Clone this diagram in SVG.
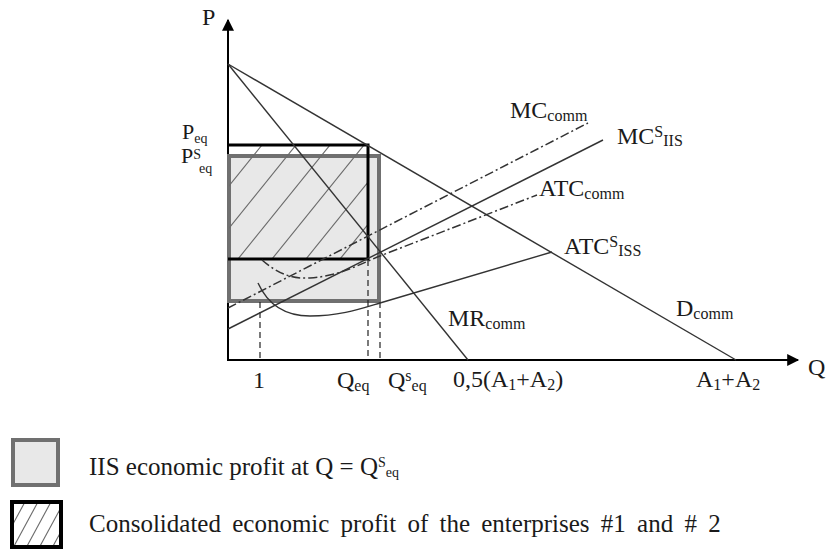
<svg xmlns="http://www.w3.org/2000/svg" width="827" height="549" viewBox="0 0 827 549">
<style>
text{font-family:"Liberation Serif","Times New Roman",serif;fill:#1a1a1a;font-size:24px}
.sub{font-size:16px}
.sm{font-size:14px}
.leg{font-size:25px}
.pl{font-size:22px}
.ax{stroke:#000;stroke-width:2;fill:none}
.ln{stroke:#333;stroke-width:1.4;fill:none}
.dd{stroke:#333;stroke-width:1.5;fill:none;stroke-dasharray:9 3 2 3}
.ds{stroke:#222;stroke-width:1.2;fill:none;stroke-dasharray:6 4}
.hatch{stroke:#6a6a6a;stroke-width:1.1}
</style>
<defs>
<marker id="arr" viewBox="0 0 10 10" refX="9" refY="5" markerWidth="14" markerHeight="12" markerUnits="userSpaceOnUse" orient="auto"><path d="M0,0 L10,5 L0,10 z" fill="#000"/></marker>
<clipPath id="cpH"><rect x="229" y="146" width="138" height="112"/></clipPath>
<clipPath id="cpL"><rect x="14" y="504" width="45" height="41"/></clipPath>
</defs>
<rect width="827" height="549" fill="#fff"/>
<g id="axes">
<line class="ax" x1="228" y1="361" x2="228" y2="20" marker-end="url(#arr)"/>
<line class="ax" x1="227" y1="360" x2="798" y2="360" marker-end="url(#arr)"/>
<text x="202" y="25">P</text>
<text x="808" y="375">Q</text>
</g>
<g id="iis-profit">
<rect x="229" y="156" width="150" height="145" fill="#e8e8e8" stroke="#707070" stroke-width="4"/>
</g>
<g id="consolidated-profit">
<g clip-path="url(#cpH)" class="hatch">
<line x1="136" y1="259" x2="228" y2="145"/>
<line x1="170" y1="259" x2="262" y2="145"/>
<line x1="204" y1="259" x2="296" y2="145"/>
<line x1="238" y1="259" x2="330" y2="145"/>
<line x1="272" y1="259" x2="364" y2="145"/>
<line x1="306" y1="259" x2="398" y2="145"/>
<line x1="340" y1="259" x2="432" y2="145"/>
</g>
<polyline points="228,145 368,145 368,259 228,259" fill="none" stroke="#000" stroke-width="3"/>
</g>
<g id="connectors">
<line class="ds" x1="260" y1="302" x2="260" y2="360"/>
<line class="ds" x1="368" y1="260" x2="368" y2="360"/>
<line class="ds" x1="380" y1="302" x2="380" y2="360"/>
<line id="D" class="ln" x1="228" y1="64" x2="736" y2="360"/>
<line id="MR" class="ln" x1="228" y1="64" x2="468" y2="360"/>
<line id="MCcomm" class="dd" x1="228" y1="308" x2="588" y2="123"/>
<line id="MCiis" class="ln" x1="228" y1="329" x2="603" y2="140"/>
<path id="ATCcomm" class="dd" d="M262,260 C278,274 292,279 310,278 C340,276 360,264 380,256 L537,195"/>
<path id="ATCiss" class="ln" d="M258,283 C268,305 285,316 310,316 C340,316 360,309 380,303 L552,252"/>
</g>
<g id="labels">
<text class="pl" x="182" y="139">P<tspan class="sm" dy="4">eq</tspan></text>
<text class="pl" x="181" y="163">P<tspan class="sm" dy="-4" font-size="13">S</tspan><tspan class="sm" dy="14" x="199">eq</tspan></text>
<text x="510" y="118">MC<tspan class="sub" dy="3">comm</tspan></text>
<text x="617" y="144">MC<tspan class="sub" dy="-7">S</tspan><tspan class="sub" dy="9">IIS</tspan></text>
<text x="539" y="196">ATC<tspan class="sub" dy="3">comm</tspan></text>
<text x="564" y="254">ATC<tspan class="sub" dy="-7">S</tspan><tspan class="sub" dy="9">ISS</tspan></text>
<text x="448" y="326">MR<tspan class="sub" dy="3">comm</tspan></text>
<text x="676" y="316">D<tspan class="sub" dy="3">comm</tspan></text>
<text x="253" y="388">1</text>
<text x="337" y="388">Q<tspan class="sub" dy="3">eq</tspan></text>
<text x="388" y="388">Q<tspan class="sub" dy="-7">s</tspan><tspan class="sub" dy="10">eq</tspan></text>
<text x="453" y="387">0,5(A<tspan class="sub" dy="3">1</tspan><tspan dy="-3">+A</tspan><tspan class="sub" dy="3">2</tspan><tspan dy="-3">)</tspan></text>
<text x="696" y="387">A<tspan class="sub" dy="3">1</tspan><tspan dy="-3">+A</tspan><tspan class="sub" dy="3">2</tspan></text>
</g>
<g id="legend-iis">
<rect x="13" y="440" width="45" height="45" fill="#e8e8e8" stroke="#707070" stroke-width="4"/>
<text class="leg" x="89" y="475">IIS economic profit at Q = Q<tspan class="sm" dy="-8">S</tspan><tspan class="sm" dy="10">eq</tspan></text>
</g>
<g id="legend-consolidated">
<rect x="12" y="502" width="49" height="45" fill="#fff" stroke="#000" stroke-width="4"/>
<g clip-path="url(#cpL)" class="hatch">
<line x1="0" y1="548" x2="26" y2="500"/>
<line x1="13" y1="548" x2="39" y2="500"/>
<line x1="26" y1="548" x2="52" y2="500"/>
<line x1="39" y1="548" x2="65" y2="500"/>
<line x1="52" y1="548" x2="78" y2="500"/>
</g>
<text class="leg" x="89" y="532" word-spacing="5">Consolidated economic profit of the enterprises #1 and # 2</text>
</g>
</svg>
